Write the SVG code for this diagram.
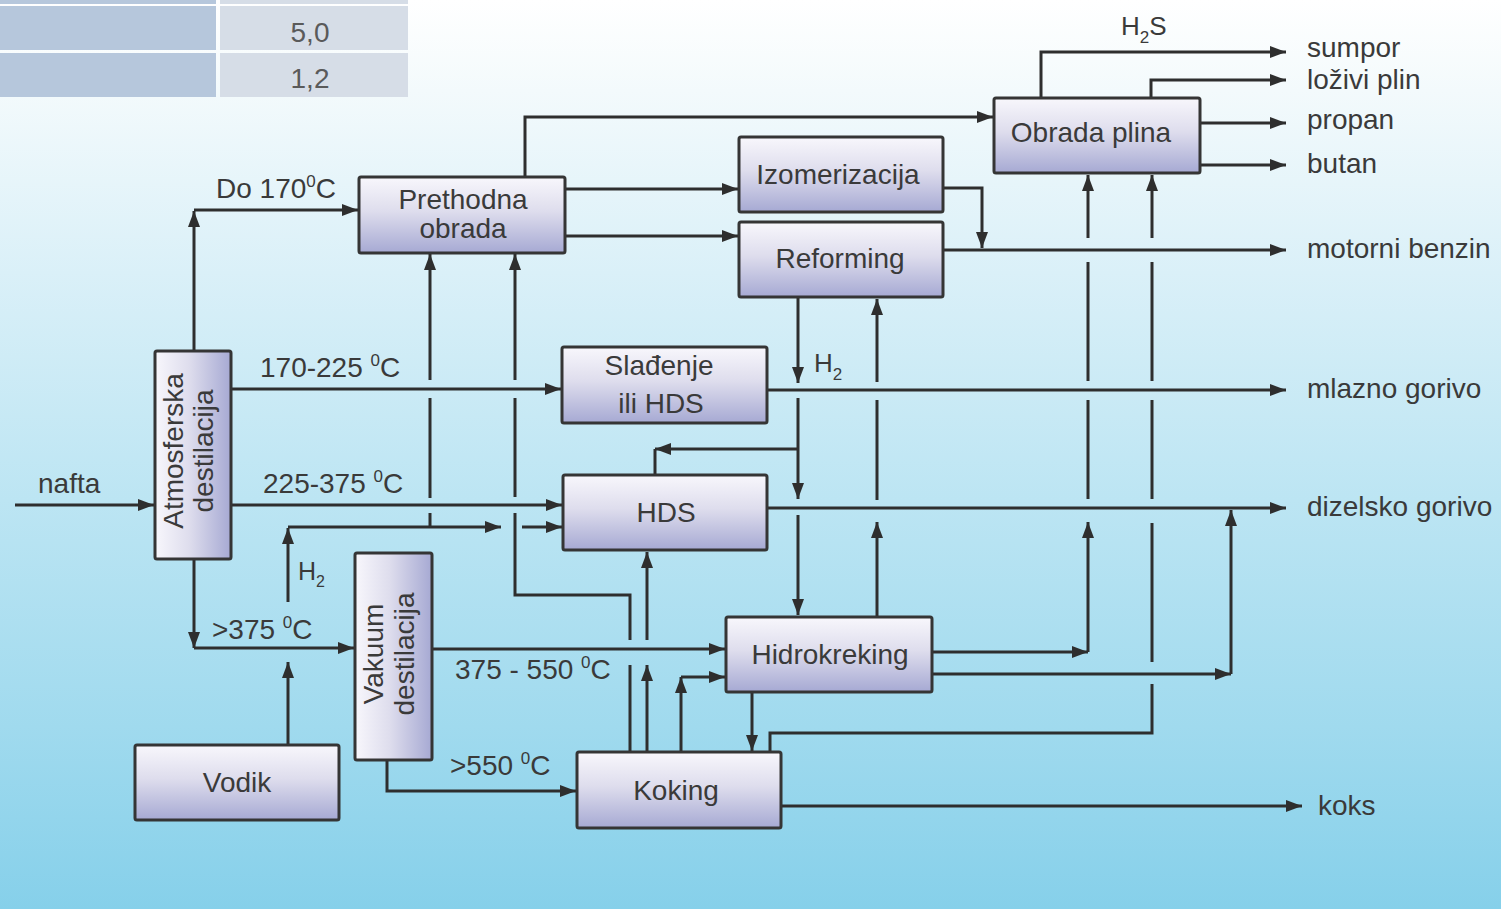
<svg xmlns="http://www.w3.org/2000/svg" width="1501" height="909" viewBox="0 0 1501 909">
<defs>
<linearGradient id="bg" x1="0" y1="0" x2="0" y2="1">
<stop offset="0" stop-color="#ffffff"/>
<stop offset="0.1" stop-color="#f3fafc"/>
<stop offset="0.3" stop-color="#daf0f8"/>
<stop offset="0.55" stop-color="#bce5f3"/>
<stop offset="0.8" stop-color="#a0daee"/>
<stop offset="1" stop-color="#86d0ea"/>
</linearGradient>
<linearGradient id="gv" x1="0" y1="0" x2="0" y2="1">
<stop offset="0" stop-color="#f8f7fc"/>
<stop offset="0.45" stop-color="#dedded"/>
<stop offset="1" stop-color="#a6a9d3"/>
</linearGradient>
<linearGradient id="gh" x1="0" y1="0" x2="1" y2="0">
<stop offset="0" stop-color="#f8f7fc"/>
<stop offset="0.45" stop-color="#dedded"/>
<stop offset="1" stop-color="#a6a9d3"/>
</linearGradient>
<marker id="ah" viewBox="0 0 16 12" markerWidth="16" markerHeight="12" refX="16" refY="6" orient="auto" markerUnits="userSpaceOnUse">
<path d="M0,0 L16,6 L0,12 z" fill="#2e2e2e"/>
</marker>
<style>
.n rect{fill:url(#gv);stroke:#353535;stroke-width:3}
.n rect.r{fill:url(#gh)}
.t{font-family:"Liberation Sans",Arial,sans-serif;font-size:28px;fill:#3a3a3a}
.m{text-anchor:middle}
.c path{fill:none;stroke:#2e2e2e;stroke-width:3}
.c path.a{marker-end:url(#ah)}
.tb{font-family:"Liberation Sans",Arial,sans-serif;font-size:28px;fill:#5a5a5a;text-anchor:middle}
</style>
</defs>
<rect x="0" y="0" width="1501" height="909" fill="url(#bg)"/>
<g id="table">
<rect x="0" y="0" width="216" height="4" fill="#b6c7dc"/>
<rect x="220" y="0" width="188" height="4" fill="#d6dde7"/>
<rect x="0" y="6" width="216" height="44" fill="#b6c7dc"/>
<rect x="220" y="6" width="188" height="44" fill="#d6dde7"/>
<rect x="0" y="53" width="216" height="44" fill="#b6c7dc"/>
<rect x="220" y="53" width="188" height="44" fill="#d6dde7"/>
<text class="tb" x="310" y="42">5,0</text>
<text class="tb" x="310" y="88">1,2</text>
</g>
<g class="c" id="connectors">
<path class="a" d="M15,505 H154"/>
<path class="a" d="M194,350 V211"/>
<path class="a" d="M194,210 H358"/>
<path class="a" d="M231,389 H561"/>
<path class="a" d="M231,505 H562"/>
<path class="a" d="M194,559 V648"/>
<path class="a" d="M194,648 H354"/>
<path class="a" d="M288,745 V662"/>
<path class="a" d="M288,602 V528"/>
<path class="a" d="M288,527 H501"/>
<path class="a" d="M522,527 H562"/>
<path d="M430,526 V513 M430,498 V398"/>
<path class="a" d="M430,380 V254"/>
<path d="M630,752 V665 M630,640 V595 H515 V513 M515,497 V398"/>
<path class="a" d="M515,380 V254"/>
<path class="a" d="M565,189 H738"/>
<path class="a" d="M565,236 H738"/>
<path class="a" d="M525,177 V117 H993"/>
<path class="a" d="M943,188 H982 V248"/>
<path class="a" d="M943,250 H1286"/>
<path class="a" d="M1041,98 V52 H1286"/>
<path class="a" d="M1151,98 V80 H1286"/>
<path class="a" d="M1200,123 H1286"/>
<path class="a" d="M1200,165 H1286"/>
<path class="a" d="M798,297 V383"/>
<path class="a" d="M798,398 V499"/>
<path class="a" d="M798,515 V615"/>
<path class="a" d="M798,449 H655"/>
<path d="M655,449 V475"/>
<path class="a" d="M877,616 V522"/>
<path d="M877,500 V400"/>
<path class="a" d="M877,382 V299"/>
<path class="a" d="M767,390 H1286"/>
<path class="a" d="M767,508 H1286"/>
<path class="a" d="M432,649 H725"/>
<path class="a" d="M387,760 V791 H576"/>
<path class="a" d="M647,752 V665"/>
<path class="a" d="M647,640 V552"/>
<path class="a" d="M681,752 V677"/>
<path class="a" d="M681,677 H725"/>
<path class="a" d="M752,692 V751"/>
<path d="M770,752 V733 H1152 V684 M1152,662 V523 M1152,499 V400 M1152,381 V262"/>
<path class="a" d="M1152,238 V175"/>
<path class="a" d="M931,652 H1088"/>
<path class="a" d="M1088,652 V522"/>
<path d="M1088,499 V400 M1088,381 V262"/>
<path class="a" d="M1088,238 V175"/>
<path class="a" d="M931,674 H1231"/>
<path class="a" d="M1231,674 V510"/>
<path class="a" d="M781,806 H1302"/>
</g>
<g id="labels" class="t">
<text x="38" y="493">nafta</text>
<text x="216" y="198">Do 170<tspan font-size="17" dy="-11">0</tspan><tspan dy="11">C</tspan></text>
<text x="260" y="377">170-225 <tspan font-size="17" dy="-11">0</tspan><tspan dy="11">C</tspan></text>
<text x="263" y="493">225-375 <tspan font-size="17" dy="-11">0</tspan><tspan dy="11">C</tspan></text>
<text x="212" y="639">&gt;375 <tspan font-size="17" dy="-11">0</tspan><tspan dy="11">C</tspan></text>
<text x="455" y="679">375 - 550 <tspan font-size="17" dy="-11">0</tspan><tspan dy="11">C</tspan></text>
<text x="450" y="775">&gt;550 <tspan font-size="17" dy="-11">0</tspan><tspan dy="11">C</tspan></text>
<text x="298" y="580" font-size="25">H<tspan font-size="16" dy="7">2</tspan></text>
<text x="814" y="372" font-size="26">H<tspan font-size="17" dy="8">2</tspan></text>
<text x="1121" y="35" font-size="26">H<tspan font-size="17" dy="8">2</tspan><tspan dy="-8">S</tspan></text>
<text x="1307" y="57">sumpor</text>
<text x="1307" y="89">loživi plin</text>
<text x="1307" y="129">propan</text>
<text x="1307" y="173">butan</text>
<text x="1307" y="258">motorni benzin</text>
<text x="1307" y="398">mlazno gorivo</text>
<text x="1307" y="516">dizelsko gorivo</text>
<text x="1318" y="815">koks</text>
</g>
<g id="prethodna" class="n"><rect x="359" y="177" width="206" height="76" rx="2"/><text class="t m" x="463" y="209">Prethodna</text><text class="t m" x="463" y="238">obrada</text></g>
<g id="izomerizacija" class="n"><rect x="739" y="137" width="204" height="75" rx="2"/><text class="t m" x="838" y="184">Izomerizacija</text></g>
<g id="reforming" class="n"><rect x="739" y="222" width="204" height="75" rx="2"/><text class="t m" x="840" y="268">Reforming</text></g>
<g id="obrada-plina" class="n"><rect x="994" y="98" width="206" height="75" rx="2"/><text class="t m" x="1091" y="142">Obrada plina</text></g>
<g id="atmosferska" class="n"><rect class="r" x="155" y="351" width="76" height="208" rx="2"/><text class="t m" transform="translate(183,451) rotate(-90)">Atmosferska</text><text class="t m" transform="translate(213,451) rotate(-90)">destilacija</text></g>
<g id="sladenje" class="n"><rect x="562" y="347" width="205" height="76" rx="2"/><text class="t m" x="659" y="375">Slađenje</text><text class="t m" x="661" y="413">ili HDS</text></g>
<g id="hds" class="n"><rect x="563" y="475" width="204" height="75" rx="2"/><text class="t m" x="666" y="522">HDS</text></g>
<g id="vakuum" class="n"><rect class="r" x="355" y="553" width="77" height="207" rx="2"/><text class="t m" transform="translate(383,654) rotate(-90)">Vakuum</text><text class="t m" transform="translate(414,654) rotate(-90)">destilacija</text></g>
<g id="vodik" class="n"><rect x="135" y="745" width="204" height="75" rx="2"/><text class="t m" x="237" y="792">Vodik</text></g>
<g id="hidrokreking" class="n"><rect x="726" y="617" width="206" height="75" rx="2"/><text class="t m" x="830" y="664">Hidrokreking</text></g>
<g id="koking" class="n"><rect x="577" y="752" width="204" height="76" rx="2"/><text class="t m" x="676" y="800">Koking</text></g>
</svg>
